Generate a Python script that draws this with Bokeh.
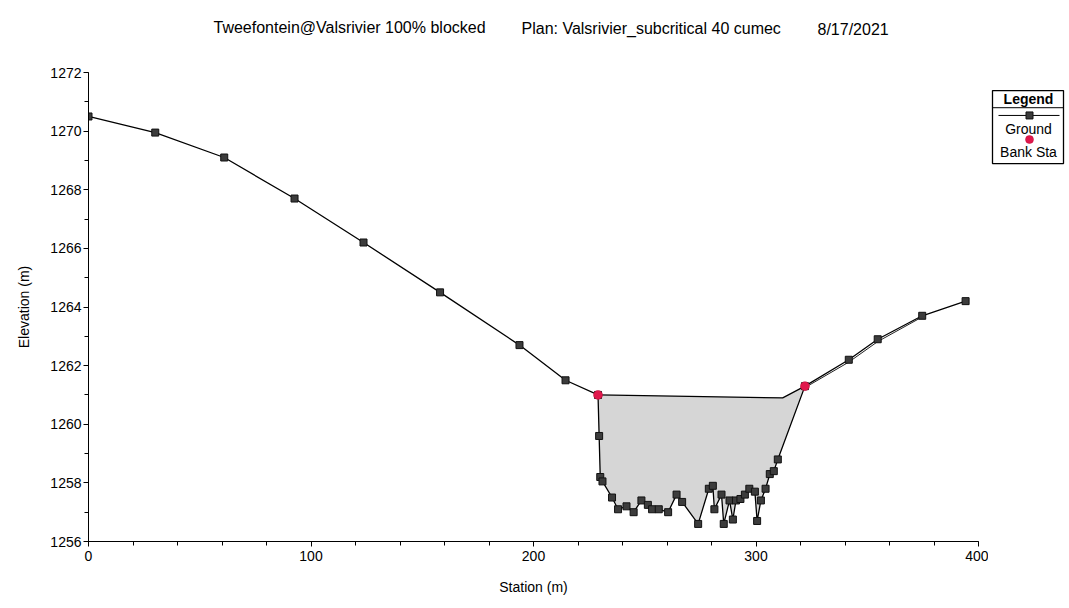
from bokeh.plotting import figure
from bokeh.models import Range1d, FixedTicker
from bokeh.layouts import row, column
from bokeh.embed import file_html
from bokeh.resources import INLINE
from bokeh.core.properties import value

# ---------------- data ----------------
station = [0, 30, 61, 92.6, 123.6, 158, 193.7, 214.4, 229, 229.5, 230, 231,
           235.3, 238, 241.8, 245, 248.5, 251.4, 253.3, 256.3, 260.5, 264.3,
           266.8, 274, 278.8, 280.6, 281.3, 284.5, 285.5, 288.1, 289.6, 291,
           293, 295, 297, 299.5, 300.5, 302.2, 304.3, 306.2, 308, 309.8, 322,
           341.7, 354.7, 374.7, 394.2]
elevation = [1270.5, 1269.95, 1269.1, 1267.7, 1266.2, 1264.5, 1262.7, 1261.5,
             1261.0, 1259.6, 1258.2, 1258.05, 1257.5, 1257.1, 1257.2, 1257.0,
             1257.4, 1257.25, 1257.1, 1257.1, 1257.0, 1257.6, 1257.35, 1256.6,
             1257.8, 1257.9, 1257.1, 1257.6, 1256.6, 1257.4, 1256.75, 1257.4,
             1257.45, 1257.6, 1257.8, 1257.7, 1256.7, 1257.4, 1257.8, 1258.3,
             1258.4, 1258.8, 1261.3, 1262.2, 1262.9, 1263.7, 1264.2]
bank_station = [229, 322]
bank_elev = [1261.0, 1261.3]
# blocked area top line
block_station = [229, 312, 322]
block_elev = [1261.0, 1260.9, 1261.3]
# second (parallel) overbank line
ob_station = [322, 341.7, 354.7, 374.7]
ob_elev = [1261.25, 1262.12, 1262.82, 1263.66]

x_major = [0, 100, 200, 300, 400]
x_minor = list(range(0, 401, 20))
y_major = [1256, 1258, 1260, 1262, 1264, 1266, 1268, 1270, 1272]
y_minor = list(range(1256, 1273))

title_texts = ["Tweefontein@Valsrivier 100% blocked",
               "Plan: Valsrivier_subcritical 40 cumec",
               "8/17/2021"]
legend_title = "Legend"
legend_labels = ["Ground", "Bank Sta"]

FONT = "Liberation Sans"
TITLE_H = 62
TOTAL_W, TOTAL_H = 1069, 608
MAIN_W = 988
LEG_W = TOTAL_W - MAIN_W
MAIN_H = TOTAL_H - TITLE_H

# ---------------- title strip ----------------
tf = figure(width=TOTAL_W, height=TITLE_H, x_range=Range1d(0, TOTAL_W),
            y_range=Range1d(TITLE_H, 0), output_backend="svg",
            toolbar_location=None, min_border=0)
tf.axis.visible = False
tf.grid.visible = False
tf.outline_line_color = None
tf.text(x=[213, 521, 817], y=[27, 28, 29], text=title_texts,
        text_font=value(FONT), text_font_size="16px", text_color="black",
        text_align="left", text_baseline="middle")

# ---------------- main figure ----------------
p = figure(width=MAIN_W, height=MAIN_H, x_range=Range1d(0, 400),
           y_range=Range1d(1256, 1272), output_backend="svg",
           toolbar_location=None, min_border_left=88, min_border_right=10,
           min_border_top=10, min_border_bottom=67)
p.outline_line_color = None
p.grid.visible = False
p.background_fill_color = "white"
p.border_fill_color = "white"

p.xaxis.ticker = FixedTicker(ticks=x_major, minor_ticks=x_minor)
p.yaxis.ticker = FixedTicker(ticks=y_major, minor_ticks=y_minor)
for ax in (p.xaxis, p.yaxis):
    ax.axis_line_color = "black"
    ax.major_tick_line_color = "black"
    ax.minor_tick_line_color = "black"
    ax.major_tick_in = 0
    ax.major_tick_out = 5
    ax.minor_tick_in = 0
    ax.minor_tick_out = 4
    ax.major_label_text_font = FONT
    ax.major_label_text_font_size = "14px"
    ax.major_label_text_color = "black"
    ax.axis_label_text_font = FONT
    ax.axis_label_text_font_size = "14px"
    ax.axis_label_text_font_style = "normal"
    ax.axis_label_text_color = "black"
p.xaxis.axis_label = "Station (m)"
p.yaxis.axis_label = "Elevation (m)"
p.xaxis.major_label_standoff = 4
p.yaxis.major_label_standoff = 2
p.xaxis.axis_label_standoff = 15
p.yaxis.axis_label_standoff = 15

# blocked area fill
i0 = station.index(bank_station[0])
i1 = station.index(bank_station[1])
poly_x = block_station + station[i0:i1 + 1][::-1]
poly_y = block_elev + elevation[i0:i1 + 1][::-1]
p.patch(poly_x, poly_y, fill_color="#d6d6d6", line_color=None)
p.line(block_station, block_elev, line_color="black", line_width=1.2)
p.line(ob_station, ob_elev, line_color="#222222", line_width=1)

# ground
p.line(station, elevation, line_color="black", line_width=1.3)
p.scatter(station, elevation, marker="square", size=7,
          fill_color="#3c3c3c", line_color="#111111", line_width=1)
# bank stations
p.scatter(bank_station, bank_elev, marker="circle", size=9,
          fill_color="#e0184c", line_color="#c0103c", line_width=0.5)

# ---------------- legend panel ----------------
lg = figure(width=LEG_W, height=MAIN_H, x_range=Range1d(0, LEG_W),
            y_range=Range1d(MAIN_H, 0), output_backend="svg",
            toolbar_location=None, min_border=0)
lg.axis.visible = False
lg.grid.visible = False
lg.outline_line_color = None
lg.quad(left=[4], right=[75], top=[21], bottom=[106],
        fill_color="white", line_color="black", line_width=1.3)
lg.line([4, 75], [41, 41], line_color="black", line_width=1)
lg.line([10, 71], [50, 50], line_color="black", line_width=1)
lg.scatter([41], [50], marker="square", size=7, fill_color="#3c3c3c",
           line_color="#111111")
lg.scatter([41], [78], marker="circle", size=8, fill_color="#e0184c",
           line_color="#c0103c", line_width=0.5)
lg.text(x=[40], y=[31], text=[legend_title], text_font=value(FONT),
        text_font_size="14px", text_font_style="bold", text_align="center",
        text_baseline="middle", text_color="black")
lg.text(x=[40, 40], y=[66, 92], text=legend_labels, text_font=value(FONT),
        text_font_size="14px", text_align="center",
        text_baseline="middle", text_color="black")

layout = column(tf, row(p, lg))
open("out.html", "w").write(file_html(layout, INLINE))
